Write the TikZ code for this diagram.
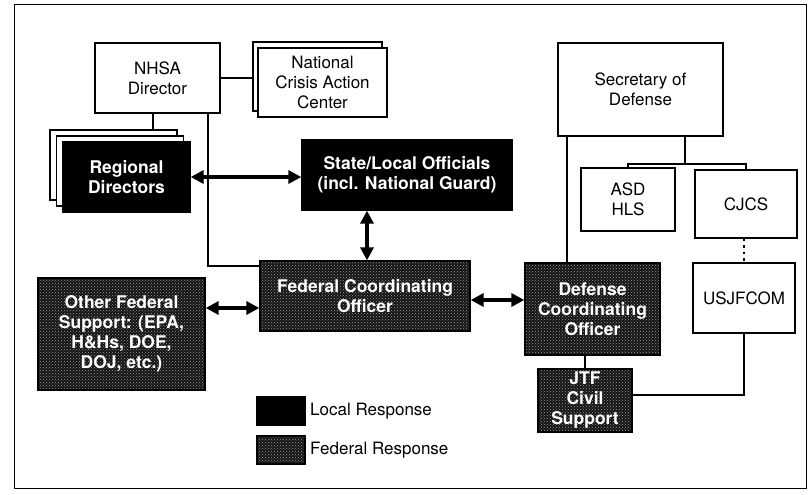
\documentclass[tikz,border=0pt]{standalone}
\usepackage{fontspec}
\setmainfont{TeX Gyre Heros}
\usetikzlibrary{arrows.meta,shadows,patterns}

\begin{document}
\begin{tikzpicture}[x=1pt,y=-1pt,
    every node/.style={font=\fontsize{17}{20}\selectfont, align=center, inner sep=2pt},
    plainbox/.style={draw, line width=1.3pt, fill=white, text=black},
    localbox/.style={draw, line width=1.3pt, fill=black, text=white,
        font=\fontsize{17.5}{20}\selectfont\bfseries},
    fedbox/.style={draw, line width=1.3pt, preaction={fill=black!92},
        pattern=crosshatch dots, pattern color=black!40, text=white,
        font=\fontsize{17.5}{20}\selectfont\bfseries},
    link/.style={line width=2pt},
    dblarrow/.style={line width=3.8pt,
        {Triangle[width=13pt,length=13pt]}-{Triangle[width=13pt,length=13pt]}},
  ]
    \useasboundingbox (0,0) rectangle (812,495);

    % Draw frame
    \draw[line width=0.8pt] (14,4) rectangle (806,488);

    % Draw NHSA side
    \node[plainbox, minimum width=125pt, minimum height=70pt] (nhsa) at (157.5,78) {NHSA\\Director};
    \node[plainbox, minimum width=129pt, minimum height=69pt,
        copy shadow={shadow xshift=-5pt, shadow yshift=6pt, fill=white, draw=black, line width=1.3pt}]
        (ncac) at (322.5,82.5) {National\\Crisis Action\\Center};
    \node[localbox, minimum width=127pt, minimum height=70pt,
        double copy shadow={shadow xshift=-6.5pt, shadow yshift=6pt, fill=white, draw=black, line width=1.3pt}]
        (regdir) at (126.5,177) {Regional\\Directors};
    \node[localbox, minimum width=210pt, minimum height=70pt] (state) at (407,175)
        {State/Local Officials\\(incl. National Guard)};
    \node[fedbox, minimum width=210pt, minimum height=70pt] (fco) at (365,296)
        {Federal Coordinating\\Officer};
    \node[fedbox, minimum width=167pt, minimum height=112pt] (other) at (121.5,334)
        {Other Federal\\Support: (EPA,\\H\&Hs, DOE,\\DOJ, etc.)};

    % Draw defense side
    \node[plainbox, minimum width=165pt, minimum height=93pt] (secdef) at (640.5,89.5) {Secretary of\\Defense};
    \node[plainbox, minimum width=94pt, minimum height=63pt] (asd) at (628,199.5) {ASD\\HLS};
    \node[plainbox, minimum width=102pt, minimum height=68pt] (cjcs) at (746,204) {CJCS};
    \node[plainbox, minimum width=102pt, minimum height=70pt] (usjf) at (744,298) {USJFCOM};
    \node[fedbox, minimum width=135pt, minimum height=92pt] (dco) at (592.5,309)
        {Defense\\Coordinating\\Officer};
    \node[fedbox, minimum width=94pt, minimum height=63pt] (jtf) at (585,400.5) {JTF\\Civil\\Support};

    % Draw legend
    \node[localbox, minimum width=48pt, minimum height=28pt] (leglocal) at (281,411) {};
    \node[fedbox, minimum width=48pt, minimum height=28pt] (legfed) at (281,450) {};
    \node[anchor=west] (loctxt) at (308,411) {Local Response};
    \node[anchor=west] (fedtxt) at (308,450) {Federal Response};

    % Draw plain links
    \draw[link] (nhsa.east) -- ([xshift=-5pt]nhsa.east -| ncac.west);
    \draw[link] ([xshift=-4.5pt]nhsa.south) -- ++(0,17);
    \draw[link] ([xshift=50.5pt]nhsa.south) |- ([yshift=-6pt]fco.north west);
    \draw[link] ([xshift=10pt]secdef.south west) -- ([xshift=10pt]secdef.south west |- dco.north);
    \coordinate (br) at ([xshift=44.5pt,yshift=-27pt]secdef.south);
    \draw[link] ([xshift=44.5pt]secdef.south) -- (br);
    \draw[link] (asd.north) |- (br) -| (cjcs.north);
    \draw[line width=2.5pt, dash pattern=on 2.5pt off 4pt] (usjf.north |- cjcs.south) -- (usjf.north);
    \draw[link] (jtf.north) -- (jtf.north |- dco.south);
    \draw[link] ([yshift=6pt]jtf.east) -| (usjf.south);

    % Draw double arrows
    \draw[dblarrow] (regdir.east) -- (regdir.east -| state.west);
    \draw[dblarrow] ([xshift=-40pt]state.south) -- ([xshift=-40pt]state.south |- fco.north);
    \coordinate (fl) at ([yshift=-12pt]fco.west);
    \draw[dblarrow] (other.east |- fl) -- (fl);
    \draw[dblarrow] ([yshift=-4pt]fco.east) -- ([yshift=-4pt]fco.east -| dco.west);

\end{tikzpicture}
\end{document}
